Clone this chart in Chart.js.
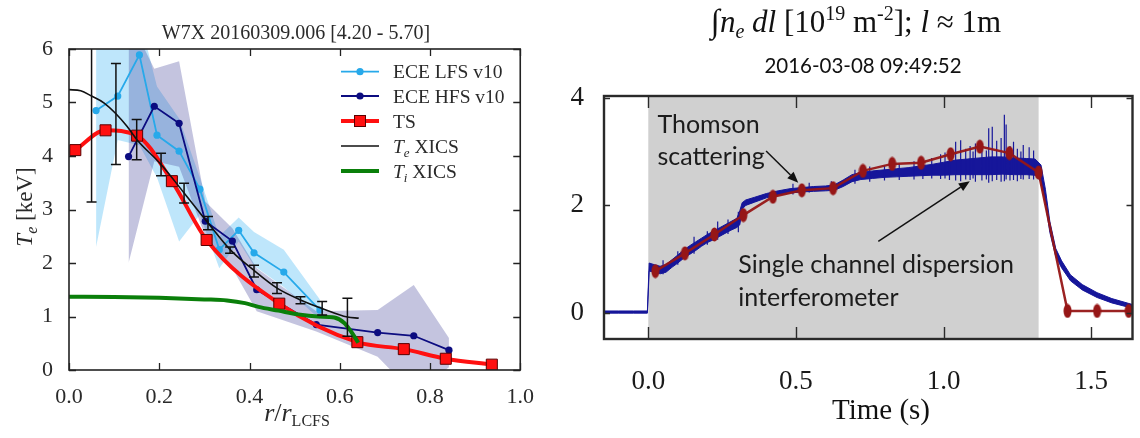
<!DOCTYPE html>
<html><head><meta charset="utf-8">
<script src="https://cdn.jsdelivr.net/npm/chart.js@4.4.1/dist/chart.umd.min.js"></script>
<style>
html,body{margin:0;padding:0;background:#fff;overflow:hidden;}
#wrap{position:relative;width:1140px;height:438px;background:#fff;}
#c1{position:absolute;left:0;top:0;}
#c2{position:absolute;left:540px;top:0;}
</style></head><body>
<div id="wrap"><canvas id="c1" width="540" height="438"></canvas><canvas id="c2" width="600" height="438"></canvas></div>
<script>
// ================= LEFT PANEL DATA (r/r_LCFS vs keV) =================
const xTicksL = [0, 0.2, 0.4, 0.6, 0.8, 1.0];
const xTickLabelsL = ['0.0','0.2','0.4','0.6','0.8','1.0'];
const yTicksL = [0, 1, 2, 3, 4, 5, 6];
const yTickLabelsL = ['0','1','2','3','4','5','6'];

const lfsR  = [0.060, 0.108, 0.156, 0.195, 0.244, 0.290, 0.333, 0.376, 0.410, 0.476, 0.556];
const lfsTe = [4.85, 5.12, 5.89, 4.39, 4.09, 3.38, 2.25, 2.61, 2.19, 1.83, 1.12];
const lfsLo = [2.30, 4.30, 4.20, 3.60, 2.40, 2.90, 1.90, 2.40, 1.95, 1.55, 0.95];
const lfsHi = [6.60, 6.60, 6.60, 5.30, 4.70, 3.60, 2.50, 2.85, 2.58, 2.25, 1.32];

const hfsR  = [0.132, 0.189, 0.244, 0.302, 0.362, 0.416, 0.548, 0.684, 0.764, 0.842];
const hfsTe = [3.99, 4.93, 4.61, 2.78, 2.41, 1.50, 0.85, 0.70, 0.64, 0.37];
const hfsLo = [2.00, 3.90, 3.80, 2.50, 1.90, 1.10, 0.72, 0.25, -0.45, 0.05];
const hfsHi = [6.60, 5.63, 5.77, 3.15, 2.65, 1.90, 1.10, 1.12, 1.59, 0.60];

const tsR  = [0.014, 0.081, 0.151, 0.228, 0.305, 0.466, 0.639, 0.742, 0.835, 0.937];
const tsTe = [4.11, 4.48, 4.38, 3.53, 2.43, 1.24, 0.52, 0.39, 0.21, 0.10];

const xicsR  = [0.000, 0.026, 0.050, 0.078, 0.104, 0.128, 0.150, 0.204, 0.255, 0.308, 0.357, 0.410, 0.461, 0.513, 0.561, 0.617, 0.642];
const xicsTe = [5.24, 5.22, 5.12, 4.99, 4.79, 4.56, 4.31, 3.84, 3.31, 2.75, 2.25, 1.86, 1.53, 1.31, 1.15, 0.99, 0.97];
const xicsErrR  = [0.050, 0.104, 0.150, 0.204, 0.255, 0.308, 0.357, 0.410, 0.461, 0.513, 0.561, 0.617];
const xicsErrLo = [3.14, 3.84, 3.93, 3.63, 3.12, 2.62, 2.18, 1.74, 1.43, 1.24, 1.03, 0.63];
const xicsErrHi = [7.06, 5.73, 4.68, 4.05, 3.49, 2.87, 2.30, 1.96, 1.63, 1.37, 1.28, 1.34];

const tiR  = [0.00, 0.10, 0.20, 0.30, 0.35, 0.39, 0.42, 0.464, 0.508, 0.552, 0.588, 0.610, 0.625, 0.641];
const tiTi = [1.37, 1.365, 1.35, 1.32, 1.30, 1.25, 1.18, 1.11, 1.04, 1.00, 0.98, 0.88, 0.72, 0.51];

// ================= RIGHT PANEL DATA (time s vs 1e19 m^-2) =================
const xTicksR = [0, 0.5, 1.0, 1.5];
const xTickLabelsR = ['0.0','0.5','1.0','1.5'];
const yTicksR = [0, 2, 4];
const yTickLabelsR = ['0','2','4'];
const shadeSpan = [0.0, 1.322];

const tsTime = [0.024, 0.124, 0.224, 0.322, 0.422, 0.520, 0.626, 0.727, 0.826, 0.924, 1.024, 1.123, 1.223, 1.322, 1.420, 1.520, 1.627];
const tsNe   = [0.78, 1.11, 1.46, 1.82, 2.16, 2.28, 2.32, 2.64, 2.77, 2.79, 2.95, 3.09, 2.97, 2.61, 0.04, 0.04, 0.04];

const intfT  = [-0.15,-0.10,-0.05,-0.003,0.003,0.02,0.04,0.06,0.08,0.10,0.12,0.14,0.16,0.18,0.20,0.22,0.24,0.26,0.28,0.30,0.31,0.318,0.33,0.36,0.40,0.44,0.48,0.52,0.56,0.60,0.63,0.66,0.69,0.72,0.76,0.80,0.84,0.88,0.92,0.96,1.00,1.04,1.08,1.12,1.16,1.20,1.24,1.28,1.31,1.33,1.345,1.36,1.38,1.40,1.43,1.47,1.52,1.57,1.64];
const intfLo = [0.00,0.00,0.00,0.00,0.78,0.76,0.73,0.76,0.85,0.93,1.02,1.09,1.16,1.24,1.31,1.36,1.42,1.48,1.54,1.59,1.64,1.93,2.00,2.06,2.14,2.19,2.23,2.25,2.26,2.27,2.28,2.35,2.44,2.48,2.50,2.52,2.53,2.54,2.55,2.56,2.56,2.57,2.57,2.57,2.57,2.58,2.57,2.57,2.56,2.45,2.05,1.50,1.05,0.84,0.60,0.43,0.29,0.19,0.09];
const intfHi = [0.04,0.04,0.04,0.04,0.93,0.90,0.87,0.90,0.99,1.08,1.17,1.25,1.32,1.39,1.46,1.52,1.58,1.64,1.70,1.76,1.90,2.05,2.10,2.15,2.22,2.27,2.31,2.33,2.35,2.36,2.38,2.47,2.57,2.61,2.64,2.66,2.68,2.70,2.73,2.76,2.80,2.84,2.86,2.88,2.90,2.90,2.88,2.87,2.86,2.75,2.30,1.70,1.20,0.97,0.71,0.53,0.38,0.27,0.16];

const spikeT  = [0.050,0.100,0.155,0.200,0.235,0.270,0.305,0.490,0.545,0.620,0.700,0.750,0.800,0.850,0.900,0.930,0.960,0.990,1.005,1.020,1.041,1.058,1.075,1.090,1.100,1.108,1.130,1.145,1.153,1.165,1.180,1.195,1.206,1.212,1.225,1.237,1.250,1.262,1.270,1.290,1.305];
const spikeLo = [0.72,0.90,1.10,1.27,1.36,1.47,1.50,2.20,2.24,2.26,2.40,2.44,2.46,2.47,2.48,2.49,2.50,2.49,2.50,2.47,2.46,2.45,2.48,2.47,2.50,2.44,2.46,2.48,2.42,2.45,2.47,2.44,2.45,2.48,2.46,2.47,2.45,2.49,2.48,2.49,2.48];
const spikeHi = [0.98,1.15,1.42,1.52,1.70,1.74,1.88,2.40,2.42,2.45,2.66,2.72,2.74,2.78,2.82,2.86,2.88,2.95,2.98,3.05,3.18,3.21,3.05,3.10,3.00,3.15,3.08,3.02,3.43,3.46,3.20,3.25,3.68,3.50,3.10,3.18,3.05,3.00,3.12,3.08,3.02];

// ================= helpers =================
const SERIF = "'Liberation Serif','DejaVu Serif',serif";
const SANS = "Lato,'Open Sans','Liberation Sans',sans-serif";
const pts = (xs, ys) => xs.map((x, i) => ({x: x, y: ys[i]}));

function drawRich(ctx, segs, x, y, align) {
  let w = 0;
  for (const s of segs) { ctx.font = s.f; w += ctx.measureText(s.t).width; }
  let cx = align === 'center' ? x - w / 2 : (align === 'right' ? x - w : x);
  ctx.textAlign = 'left'; ctx.textBaseline = 'alphabetic';
  for (const s of segs) { ctx.font = s.f; ctx.fillText(s.t, cx, y + (s.dy || 0)); cx += ctx.measureText(s.t).width; }
}
function drawFrame(chart, o) {
  const {ctx, chartArea: a, scales: {x, y}} = chart;
  ctx.save();
  ctx.strokeStyle = o.color; ctx.lineWidth = o.tickWidth; ctx.lineCap = 'butt';
  for (const t of x.ticks) {
    const px = Math.round(x.getPixelForValue(t.value)) + 0.5;
    ctx.beginPath();
    ctx.moveTo(px, a.bottom); ctx.lineTo(px, a.bottom - o.tlx);
    ctx.moveTo(px, a.top); ctx.lineTo(px, a.top + o.tlx);
    ctx.stroke();
  }
  for (const t of y.ticks) {
    const py = Math.round(y.getPixelForValue(t.value)) + 0.5;
    ctx.beginPath();
    ctx.moveTo(a.left, py); ctx.lineTo(a.left + o.tly, py);
    ctx.moveTo(a.right, py); ctx.lineTo(a.right - o.tly, py);
    ctx.stroke();
  }
  ctx.lineWidth = o.boxWidth;
  ctx.strokeRect(a.left, a.top, a.right - a.left, a.bottom - a.top);
  ctx.restore();
}
function arrow(ctx, x0, y0, x1, y1) {
  const ang = Math.atan2(y1 - y0, x1 - x0), L = 11, W = 4.5;
  const bx = x1 - L * Math.cos(ang), by = y1 - L * Math.sin(ang);
  ctx.beginPath(); ctx.moveTo(x0, y0); ctx.lineTo(bx, by); ctx.stroke();
  ctx.beginPath();
  ctx.moveTo(x1, y1);
  ctx.lineTo(bx + W * Math.sin(ang), by - W * Math.cos(ang));
  ctx.lineTo(bx - W * Math.sin(ang), by + W * Math.cos(ang));
  ctx.closePath(); ctx.fill();
}

// ================= LEFT CHART =================
const C_LFS = '#27a9ea', C_HFS = '#0c0c80', C_TS = '#ff1010', C_TE = '#111111', C_TI = '#0a7f0a';
const leftDecor = {
  id: 'leftDecor',
  afterDatasetsDraw(chart) {
    const {ctx, chartArea: a, scales: {x, y}} = chart;
    ctx.save();
    ctx.beginPath(); ctx.rect(a.left, a.top, a.right - a.left, a.bottom - a.top); ctx.clip();
    ctx.strokeStyle = C_TE; ctx.lineWidth = 1.5;
    xicsErrR.forEach((r, i) => {
      const px = x.getPixelForValue(r), lo = y.getPixelForValue(xicsErrLo[i]), hi = y.getPixelForValue(xicsErrHi[i]);
      ctx.beginPath();
      ctx.moveTo(px, lo); ctx.lineTo(px, hi);
      ctx.moveTo(px - 5, lo); ctx.lineTo(px + 5, lo);
      ctx.moveTo(px - 5, hi); ctx.lineTo(px + 5, hi);
      ctx.stroke();
    });
    ctx.restore();
    drawFrame(chart, {color: '#222', tickWidth: 1.3, tlx: 7, tly: 7, boxWidth: 1.6});
  },
  afterDraw(chart) {
    const {ctx} = chart;
    ctx.save();
    ctx.fillStyle = '#2a2a2a';
    drawRich(ctx, [{t: 'W7X 20160309.006 [4.20 - 5.70]', f: '20px ' + SERIF}], 296, 39, 'center');
    drawRich(ctx, [
      {t: 'r', f: 'italic 26px ' + SERIF}, {t: '/', f: '26px ' + SERIF},
      {t: 'r', f: 'italic 26px ' + SERIF}, {t: 'LCFS', f: '16px ' + SERIF, dy: 5}
    ], 297, 421, 'center');
    ctx.save(); ctx.translate(32, 207); ctx.rotate(-Math.PI / 2);
    drawRich(ctx, [
      {t: 'T', f: 'italic 23px ' + SERIF}, {t: 'e', f: 'italic 16px ' + SERIF, dy: 5},
      {t: ' [keV]', f: '23px ' + SERIF}
    ], 0, 0, 'center');
    ctx.restore();
    const rows = [71.7, 96, 121, 146, 171];
    const lx0 = 341, lx1 = 379, mx = 360, tx = 393;
    const items = [
      {c: C_LFS, w: 1.8, m: 'dot', segs: [{t: 'ECE LFS v10', f: '19.5px ' + SERIF}]},
      {c: C_HFS, w: 1.8, m: 'dot', segs: [{t: 'ECE HFS v10', f: '19.5px ' + SERIF}]},
      {c: C_TS, w: 4, m: 'sq', segs: [{t: 'TS', f: '19.5px ' + SERIF}]},
      {c: C_TE, w: 1.6, m: null, segs: [{t: 'T', f: 'italic 19.5px ' + SERIF}, {t: 'e', f: 'italic 13px ' + SERIF, dy: 4}, {t: ' XICS', f: '19.5px ' + SERIF}]},
      {c: C_TI, w: 4, m: null, segs: [{t: 'T', f: 'italic 19.5px ' + SERIF}, {t: 'i', f: 'italic 13px ' + SERIF, dy: 4}, {t: ' XICS', f: '19.5px ' + SERIF}]}
    ];
    items.forEach((it, i) => {
      const yy = rows[i];
      ctx.strokeStyle = it.c; ctx.lineWidth = it.w;
      ctx.beginPath(); ctx.moveTo(lx0, yy); ctx.lineTo(lx1, yy); ctx.stroke();
      if (it.m === 'dot') { ctx.fillStyle = it.c; ctx.beginPath(); ctx.arc(mx, yy, 3.6, 0, 2 * Math.PI); ctx.fill(); }
      if (it.m === 'sq') { ctx.fillStyle = C_TS; ctx.fillRect(mx - 5.5, yy - 5.5, 11, 11); ctx.strokeStyle = '#5a0000'; ctx.lineWidth = 1; ctx.strokeRect(mx - 5.5, yy - 5.5, 11, 11); }
      ctx.fillStyle = '#2a2a2a';
      drawRich(ctx, it.segs, tx, yy + 6.5, 'left');
    });
    ctx.restore();
  }
};

new Chart(document.getElementById('c1'), {
  type: 'line',
  data: {datasets: [
    {label: 'Ti XICS', data: pts(tiR, tiTi), borderColor: C_TI, borderWidth: 4, pointRadius: 0, cubicInterpolationMode: 'monotone', fill: false},
    {label: 'Te XICS', data: pts(xicsR, xicsTe), borderColor: C_TE, borderWidth: 1.6, pointRadius: 0, cubicInterpolationMode: 'monotone', fill: false},
    {label: 'TS', data: pts(tsR, tsTe), borderColor: C_TS, borderWidth: 4, pointStyle: 'rect', pointRadius: 7.8, pointBackgroundColor: C_TS, pointBorderColor: '#5a0000', pointBorderWidth: 1, cubicInterpolationMode: 'monotone', fill: false},
    {label: 'ECE HFS v10', data: pts(hfsR, hfsTe), borderColor: C_HFS, borderWidth: 1.8, pointRadius: 3.6, pointBackgroundColor: C_HFS, pointBorderWidth: 0, fill: false},
    {label: 'ECE LFS v10', data: pts(lfsR, lfsTe), borderColor: C_LFS, borderWidth: 1.8, pointRadius: 3.6, pointBackgroundColor: C_LFS, pointBorderWidth: 0, fill: false},
    {label: 'HFS hi', data: pts(hfsR, hfsHi), borderWidth: 0, borderColor: 'rgba(0,0,0,0)', pointRadius: 0, fill: '+1', backgroundColor: 'rgba(60,60,150,0.30)'},
    {label: 'HFS lo', data: pts(hfsR, hfsLo), borderWidth: 0, borderColor: 'rgba(0,0,0,0)', pointRadius: 0, fill: false},
    {label: 'LFS hi', data: pts(lfsR, lfsHi), borderWidth: 0, borderColor: 'rgba(0,0,0,0)', pointRadius: 0, fill: '+1', backgroundColor: 'rgba(100,195,245,0.42)'},
    {label: 'LFS lo', data: pts(lfsR, lfsLo), borderWidth: 0, borderColor: 'rgba(0,0,0,0)', pointRadius: 0, fill: false}
  ]},
  options: {
    responsive: false, animation: false, devicePixelRatio: 1, events: [],
    layout: {padding: {top: 49, right: 16, left: 0, bottom: 0}},
    plugins: {legend: {display: false}, tooltip: {enabled: false}, title: {display: false}},
    scales: {
      x: {type: 'linear', min: 0, max: 1,
        afterBuildTicks: s => { s.ticks = xTicksL.map(v => ({value: v})); },
        afterFit: s => { s.height = 68; },
        ticks: {callback: (v, i) => xTickLabelsL[i], font: {family: SERIF, size: 22}, color: '#2a2a2a', padding: 6, maxRotation: 0, autoSkip: false},
        grid: {display: false}, border: {display: false}},
      y: {type: 'linear', min: 0, max: 6,
        afterBuildTicks: s => { s.ticks = yTicksL.map(v => ({value: v})); },
        afterFit: s => { s.width = 69; },
        ticks: {callback: (v, i) => yTickLabelsL[i], font: {family: SERIF, size: 22}, color: '#2a2a2a', padding: 8, autoSkip: false},
        grid: {display: false}, border: {display: false}}
    }
  },
  plugins: [leftDecor]
});

// ================= RIGHT CHART =================
const C_INTF = '#16169a', C_RTS = 'rgba(150,22,22,0.95)';
const ell = document.createElement('canvas'); ell.width = 9; ell.height = 15;
(function () { const e = ell.getContext('2d'); e.fillStyle = '#961616'; e.beginPath(); e.ellipse(4.5, 7.5, 4, 7, 0, 0, 2 * Math.PI); e.fill(); })();

const spikeData = [];
spikeT.forEach((t, i) => { spikeData.push({x: t, y: spikeLo[i]}, {x: t, y: spikeHi[i]}, {x: t, y: null}); });

const annot = {
  texts: [
    {t: 'Thomson', x: 0.031, y: 3.34},
    {t: 'scattering', x: 0.031, y: 2.75},
    {t: 'Single channel dispersion', x: 0.305, y: 0.75},
    {t: 'interferometer', x: 0.305, y: 0.14}
  ],
  arrows: [
    {x0: 0.399, y0: 3.01, x1: 0.508, y1: 2.42},
    {x0: 0.779, y0: 1.33, x1: 1.089, y1: 2.45}
  ]
};

const rightDecor = {
  id: 'rightDecor',
  beforeDatasetsDraw(chart) {
    const {ctx, chartArea: a, scales: {x}} = chart;
    ctx.save();
    ctx.fillStyle = '#d0d0d0';
    const x0 = x.getPixelForValue(shadeSpan[0]), x1 = x.getPixelForValue(shadeSpan[1]);
    ctx.fillRect(x0, a.top, x1 - x0, a.bottom - a.top);
    ctx.restore();
  },
  afterDatasetsDraw(chart) {
    const {ctx, scales: {x, y}} = chart;
    ctx.save();
    ctx.fillStyle = '#1c1c1c';
    ctx.font = '25px ' + SANS; ctx.textAlign = 'left'; ctx.textBaseline = 'alphabetic';
    annot.texts.forEach(o => ctx.fillText(o.t, x.getPixelForValue(o.x), y.getPixelForValue(o.y)));
    ctx.strokeStyle = '#111'; ctx.fillStyle = '#111'; ctx.lineWidth = 1.5;
    annot.arrows.forEach(o => arrow(ctx, x.getPixelForValue(o.x0), y.getPixelForValue(o.y0), x.getPixelForValue(o.x1), y.getPixelForValue(o.y1)));
    ctx.restore();
    drawFrame(chart, {color: '#2a2a2a', tickWidth: 1.4, tlx: 12, tly: 6, boxWidth: 2.4});
  },
  afterDraw(chart) {
    const {ctx} = chart;
    ctx.save();
    ctx.fillStyle = '#111';
    const F = SERIF;
    drawRich(ctx, [
      {t: '\u222B', f: 'italic 33px ' + F},
      {t: 'n', f: 'italic 31px ' + F}, {t: 'e', f: 'italic 20px ' + F, dy: 6},
      {t: ' dl', f: 'italic 31px ' + F}, {t: ' [10', f: '31px ' + F},
      {t: '19', f: '20px ' + F, dy: -12}, {t: ' m', f: '31px ' + F},
      {t: '-2', f: '20px ' + F, dy: -12}, {t: ']; ', f: '31px ' + F},
      {t: 'l', f: 'italic 31px ' + F}, {t: ' \u2248 1m', f: '31px ' + F}
    ], 316, 32, 'center');
    ctx.font = '20.5px ' + SANS; ctx.textAlign = 'center'; ctx.textBaseline = 'alphabetic';
    ctx.fillText('2016-03-08 09:49:52', 323, 73);
    drawRich(ctx, [{t: 'Time (s)', f: '29px ' + F}], 341, 419, 'center');
    ctx.restore();
  }
};

new Chart(document.getElementById('c2'), {
  type: 'line',
  data: {datasets: [
    {label: 'Thomson scattering', data: pts(tsTime, tsNe), borderColor: C_RTS, borderWidth: 2.5, pointStyle: ell, pointRadius: 5, fill: false},
    {label: 'spikes', data: spikeData, borderColor: C_INTF, borderWidth: 1.2, pointRadius: 0, fill: false, spanGaps: false},
    {label: 'interferometer hi', data: pts(intfT, intfHi), borderColor: C_INTF, borderWidth: 1, pointRadius: 0, fill: '+1', backgroundColor: C_INTF},
    {label: 'interferometer lo', data: pts(intfT, intfLo), borderColor: C_INTF, borderWidth: 1, pointRadius: 0, fill: false}
  ]},
  options: {
    responsive: false, animation: false, devicePixelRatio: 1, events: [],
    layout: {padding: {top: 96, right: 1, left: 0, bottom: 0}},
    plugins: {legend: {display: false}, tooltip: {enabled: false}, title: {display: false}},
    scales: {
      x: {type: 'linear', min: -0.15, max: 1.64,
        afterBuildTicks: s => { s.ticks = xTicksR.map(v => ({value: v})); },
        afterFit: s => { s.height = 99; },
        ticks: {callback: (v, i) => xTickLabelsR[i], font: {family: SERIF, size: 27}, color: '#1a1a1a', padding: 19, maxRotation: 0, autoSkip: false},
        grid: {display: false}, border: {display: false}},
      y: {type: 'linear', min: -0.48, max: 4.03,
        afterBuildTicks: s => { s.ticks = yTicksR.map(v => ({value: v})); },
        afterFit: s => { s.width = 64; },
        ticks: {callback: (v, i) => yTickLabelsR[i], font: {family: SERIF, size: 27}, color: '#1a1a1a', padding: 12, autoSkip: false},
        grid: {display: false}, border: {display: false}}
    }
  },
  plugins: [rightDecor]
});
</script></body></html>
